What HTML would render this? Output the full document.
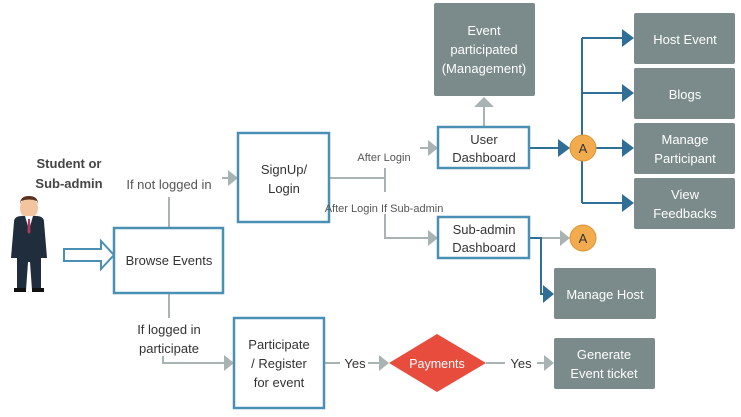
<!DOCTYPE html>
<html><head><meta charset="utf-8"><style>
html,body{margin:0;padding:0;background:#fff;}
svg{display:block;font-family:"Liberation Sans",sans-serif;}
</style></head><body>
<svg width="741" height="417" viewBox="0 0 741 417" xmlns="http://www.w3.org/2000/svg">
<defs>
<marker id="g" markerWidth="8" markerHeight="8" refX="7" refY="4" orient="auto" markerUnits="userSpaceOnUse"><path d="M0,-1 L8,4 L0,9 Z" fill="#aab3b4"/></marker>
</defs>
<g fill="none" stroke="#aab3b4" stroke-width="2">
<line x1="169" y1="228" x2="169" y2="197"/>
<line x1="222" y1="178" x2="228" y2="178"/>
<path d="M228,170 L238,178 L228,186 Z" fill="#aab3b4" stroke="none"/>
<line x1="169" y1="293" x2="169" y2="318"/>
<path d="M163,356 L163,363 L224,363" />
<path d="M224,355 L234,363 L224,371 Z" fill="#aab3b4" stroke="none"/>
<line x1="329" y1="178" x2="385" y2="178"/>
<line x1="385" y1="168" x2="385" y2="192"/>
<path d="M385,214 L385,238 L428,238"/>
<path d="M428,230 L438,238 L428,246 Z" fill="#aab3b4" stroke="none"/>
<line x1="420" y1="148" x2="428" y2="148"/>
<path d="M428,140 L438,148 L428,156 Z" fill="#aab3b4" stroke="none"/>
<line x1="484" y1="127" x2="484" y2="106"/>
<path d="M474,107 L484,97 L494,107 Z" fill="#aab3b4" stroke="none"/>
<line x1="529" y1="238" x2="562" y2="238"/>
<path d="M560,230 L570,238 L560,246 Z" fill="#aab3b4" stroke="none"/>
<line x1="324" y1="363" x2="340" y2="363"/>
<line x1="368" y1="363" x2="380" y2="363"/>
<path d="M379,355 L389,363 L379,371 Z" fill="#aab3b4" stroke="none"/>
<line x1="486" y1="363" x2="505" y2="363"/>
<line x1="537" y1="363" x2="545" y2="363"/>
<path d="M544,355 L554,363 L544,371 Z" fill="#aab3b4" stroke="none"/>
</g>
<g fill="none" stroke="#2f6f96" stroke-width="2">
<line x1="529" y1="148" x2="560" y2="148"/>
<path d="M558,139 L570,148 L558,157 Z" fill="#2f6f96" stroke="none"/>
<line x1="582" y1="38" x2="582" y2="203"/>
<line x1="582" y1="38" x2="624" y2="38"/>
<line x1="582" y1="93" x2="624" y2="93"/>
<line x1="596" y1="148" x2="624" y2="148"/>
<line x1="582" y1="203" x2="624" y2="203"/>
<path d="M622,29 L634,38 L622,47 Z M622,84 L634,93 L622,102 Z M622,139 L634,148 L622,157 Z M622,194 L634,203 L622,212 Z" fill="#2f6f96" stroke="none"/>
<path d="M529,238 L541,238 L541,294 L546,294"/>
<path d="M543,285 L554,294 L543,303 Z" fill="#2f6f96" stroke="none"/>
</g>
<!-- hollow arrow -->
<path d="M64,249 L101,249 L101,241 L114,255 L101,269 L101,261 L64,261 Z" fill="#fff" stroke="#4a90b4" stroke-width="2"/>
<!-- person -->
<g>
<ellipse cx="29" cy="208" rx="9" ry="11" fill="#f2c4a0"/>
<path d="M20,204 Q20,196 29,196 Q38,196 38,204 L37,201 Q29,198 21,201 Z" fill="#5a3320"/>
<path d="M14,222 Q14,216 22,216 L36,216 Q44,216 44,222 L47,258 L41,258 L41,290 L32,290 L30,262 L28,262 L26,290 L17,290 L17,258 L11,258 Z" fill="#1f2d3d"/>
<path d="M25,216 L29,230 L33,216 Z" fill="#fff"/>
<path d="M28,219 L30,219 L30.5,232 L29,234 L27.5,232 Z" fill="#b03a5a"/>
<rect x="14" y="288" width="12" height="4" fill="#111"/><rect x="32" y="288" width="12" height="4" fill="#111"/>
</g>
<!-- white boxes -->
<g fill="#fff" stroke="#4a90b4" stroke-width="2.5">
<rect x="114" y="228" width="109" height="65"/>
<rect x="238" y="133" width="91" height="89"/>
<rect x="438" y="127" width="91" height="41"/>
<rect x="438" y="217" width="91" height="41"/>
<rect x="234" y="318" width="90" height="90"/>
</g>
<!-- gray boxes -->
<g fill="#7b8a8b">
<rect x="434" y="3" width="101" height="93" rx="2"/>
<rect x="634" y="13" width="101" height="51" rx="2"/>
<rect x="634" y="68" width="101" height="51" rx="2"/>
<rect x="634" y="123" width="101" height="51" rx="2"/>
<rect x="634" y="178" width="101" height="51" rx="2"/>
<rect x="554" y="268" width="102" height="51" rx="2"/>
<rect x="554" y="338" width="101" height="51" rx="2"/>
</g>
<circle cx="583" cy="148" r="13" fill="#f2ac4e" stroke="#d99535"/>
<circle cx="583" cy="238" r="13" fill="#f2ac4e" stroke="#d99535"/>
<path d="M437,334 L486,363 L437,392 L389,363 Z" fill="#e84c3d"/>
<g font-size="13" fill="#333" text-anchor="middle">
<text x="69" y="168" font-weight="bold" fill="#444">Student or</text>
<text x="69" y="188" font-weight="bold" fill="#444">Sub-admin</text>
<text x="169" y="189" fill="#555">If not logged in</text>
<text x="169" y="265">Browse Events</text>
<text x="284" y="174">SignUp/</text>
<text x="284" y="193">Login</text>
<text x="384" y="161" font-size="11" fill="#555">After Login</text>
<text x="384" y="212" font-size="11" fill="#555">After Login If Sub-admin</text>
<text x="484" y="144">User</text>
<text x="484" y="162">Dashboard</text>
<text x="484" y="234">Sub-admin</text>
<text x="484" y="252">Dashboard</text>
<text x="583" y="153">A</text>
<text x="583" y="243">A</text>
<text x="169" y="334">If logged in</text>
<text x="169" y="353">participate</text>
<text x="279" y="349">Participate</text>
<text x="279" y="368">/ Register</text>
<text x="279" y="387">for event</text>
<text x="355" y="368">Yes</text>
<text x="521" y="368">Yes</text>
<text x="437" y="368" fill="#fff" font-size="12.5">Payments</text>
<g fill="#fff">
<text x="484" y="35">Event</text>
<text x="484" y="54">participated</text>
<text x="484" y="73">(Management)</text>
<text x="685" y="44">Host Event</text>
<text x="685" y="99">Blogs</text>
<text x="685" y="144">Manage</text>
<text x="685" y="163">Participant</text>
<text x="685" y="199">View</text>
<text x="685" y="218">Feedbacks</text>
<text x="605" y="299">Manage Host</text>
<text x="604" y="359">Generate</text>
<text x="604" y="378">Event ticket</text>
</g>
</g>
</svg>
</body></html>
